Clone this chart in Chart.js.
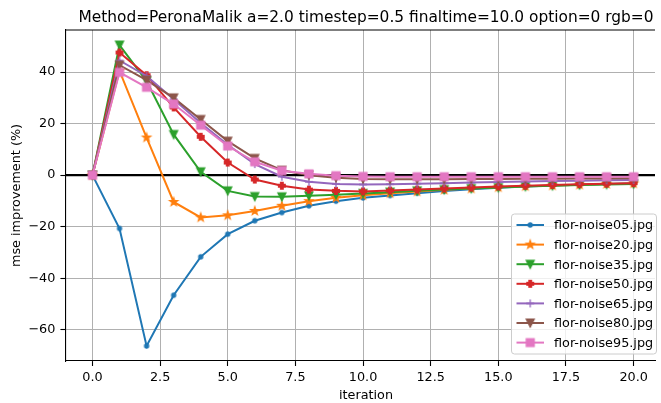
<!DOCTYPE html>
<html>
<head>
<meta charset="utf-8">
<script src="https://cdn.jsdelivr.net/npm/chart.js@4.4.0/dist/chart.umd.min.js"></script>
<style>
  html, body { margin: 0; padding: 0; background: #fff; }
  #wrap { width: 661px; height: 403px; position: relative; }
</style>
</head>
<body>
<div id="wrap"><canvas id="chart" width="661" height="403"></canvas></div>
<script>
(function () {
  'use strict';

  /* global Chart */

  // --- data ---
  var ITERATIONS = [0, 1, 2, 3, 4, 5, 6, 7, 8, 9, 10, 11, 12, 13, 14, 15, 16, 17, 18, 19, 20];
  var X_TICKS = [0, 2.5, 5, 7.5, 10, 12.5, 15, 17.5, 20];
  var Y_TICKS = [-60, -40, -20, 0, 20, 40];

  var NOISE05 = [0, -20.7, -66.3, -46.6, -31.7, -22.9, -17.7, -14.5, -11.9, -10.1, -8.8, -7.9, -7.0, -6.2, -5.5, -4.9, -4.4, -4.0, -3.7, -3.4, -3.1];
  var NOISE20 = [0, 40.5, 14.6, -10.4, -16.4, -15.6, -13.9, -11.9, -10.1, -8.8, -7.8, -7.0, -6.3, -5.7, -5.2, -4.7, -4.3, -4.0, -3.7, -3.4, -3.2];
  var NOISE35 = [0, 50.5, 36.5, 15.8, 1.3, -6.1, -8.3, -8.4, -8.0, -7.6, -7.1, -6.6, -6.1, -5.6, -5.2, -4.8, -4.4, -4.1, -3.8, -3.6, -3.4];
  var NOISE50 = [0, 47.6, 38.8, 26.3, 14.9, 4.9, -1.7, -4.1, -5.6, -6.1, -6.3, -6.0, -5.6, -5.2, -4.8, -4.4, -4.1, -3.8, -3.5, -3.3, -3.1];
  var NOISE65 = [0, 44.5, 38.5, 29.5, 20.2, 11.8, 4.3, -0.6, -2.6, -3.4, -3.6, -3.5, -3.3, -3.1, -2.9, -2.7, -2.5, -2.3, -2.2, -2.0, -1.9];
  var NOISE80 = [0, 42.7, 36.9, 30.0, 21.6, 13.2, 6.5, 1.9, 0.0, -1.0, -1.5, -1.6, -1.6, -1.6, -1.5, -1.5, -1.4, -1.4, -1.3, -1.3, -1.2];
  var NOISE95 = [0, 39.9, 34.1, 27.6, 19.4, 11.3, 5.2, 1.7, 0.5, -0.2, -0.5, -0.6, -0.6, -0.6, -0.6, -0.6, -0.6, -0.6, -0.6, -0.6, -0.6];

  var SERIES = [NOISE05, NOISE20, NOISE35, NOISE50, NOISE65, NOISE80, NOISE95];
  var NAMES = ['flor-noise05.jpg', 'flor-noise20.jpg', 'flor-noise35.jpg', 'flor-noise50.jpg',
               'flor-noise65.jpg', 'flor-noise80.jpg', 'flor-noise95.jpg'];
  var COLORS = ['#1f77b4', '#ff7f0e', '#2ca02c', '#d62728', '#9467bd', '#8c564b', '#e377c2'];
  var MARKERS = ['point', 'star', 'tridown', 'plusfilled', 'plus', 'tridown', 'square'];

  var TITLE = 'Method=PeronaMalik a=2.0 timestep=0.5 finaltime=10.0 option=0 rgb=0';
  var FONT = "'DejaVu Sans', sans-serif";
  var FS = 12.8;      // ticks, labels, legend
  var FS_TITLE = 15.4;
  var LW = 2;

  // --- matplotlib-like markers drawn on small canvases ---
  function makeMarker(kind, color) {
    var c = document.createElement('canvas');
    c.width = 16; c.height = 16;
    var g = c.getContext('2d');
    var m = 8, s = 3.95;
    g.fillStyle = color;
    g.strokeStyle = color;
    g.lineWidth = 1.3;
    g.beginPath();
    if (kind === 'point') {
      g.arc(m, m, 2, 0, Math.PI * 2);
      g.fill(); g.stroke();
    } else if (kind === 'star') {
      for (var i = 0; i < 10; i++) {
        var r = i % 2 === 0 ? s * 1.05 : s * 0.42;
        var a = -Math.PI / 2 + i * Math.PI / 5;
        var px = m + r * Math.cos(a), py = m + r * Math.sin(a);
        if (i === 0) g.moveTo(px, py); else g.lineTo(px, py);
      }
      g.closePath(); g.fill(); g.stroke();
    } else if (kind === 'tridown') {
      g.moveTo(m - s, m - s);
      g.lineTo(m + s, m - s);
      g.lineTo(m, m + s);
      g.closePath(); g.fill(); g.stroke();
    } else if (kind === 'plusfilled') {
      var w = s / 3;
      g.moveTo(m - s, m); g.lineTo(m + s, m);
      g.moveTo(m, m - s); g.lineTo(m, m + s);
      g.lineWidth = 2 * w + 1.2;
      g.stroke();
    } else if (kind === 'plus') {
      g.moveTo(m - s, m); g.lineTo(m + s, m);
      g.moveTo(m, m - s); g.lineTo(m, m + s);
      g.stroke();
    } else if (kind === 'square') {
      g.rect(m - s, m - s, 2 * s, 2 * s);
      g.fill(); g.stroke();
    }
    return c;
  }

  var markerImgs = MARKERS.map(function (k, i) { return makeMarker(k, COLORS[i]); });

  function minusFmt(v) {
    return (v < 0 ? '\u2212' : '') + Math.abs(v);
  }

  var datasets = SERIES.map(function (vals, i) {
    return {
      label: NAMES[i],
      data: ITERATIONS.map(function (x, j) { return { x: x, y: vals[j] }; }),
      borderColor: COLORS[i],
      backgroundColor: COLORS[i],
      borderWidth: LW,
      pointStyle: markerImgs[i],
      pointRadius: 4,
      pointHoverRadius: 4,
      tension: 0,
      fill: false,
      order: SERIES.length - 1 - i
    };
  });

  // zero reference line, under the datasets
  var zeroLine = {
    id: 'zeroLine',
    beforeDatasetsDraw: function (chart) {
      var ctx = chart.ctx, area = chart.chartArea;
      var y = chart.scales.y.getPixelForValue(0);
      ctx.save();
      ctx.strokeStyle = '#000';
      ctx.lineWidth = 2.4;
      ctx.beginPath();
      ctx.moveTo(area.left, y);
      ctx.lineTo(area.right, y);
      ctx.stroke();
      ctx.restore();
    }
  };

  // top spine, title, axis labels and legend box
  var decorations = {
    id: 'decorations',
    afterDraw: function (chart) {
      var ctx = chart.ctx, area = chart.chartArea;
      ctx.save();
      ctx.strokeStyle = '#000';
      ctx.lineWidth = 1.1;
      ctx.beginPath();
      ctx.moveTo(area.left, area.top);
      ctx.lineTo(area.right, area.top);
      ctx.stroke();

      ctx.fillStyle = '#000';
      ctx.font = FS_TITLE + 'px ' + FONT;
      ctx.textAlign = 'center';
      ctx.textBaseline = 'alphabetic';
      ctx.fillText(TITLE, 366, 22);

      ctx.font = FS + 'px ' + FONT;
      ctx.textBaseline = 'top';
      ctx.fillText('iteration', 366, 389);

      ctx.save();
      ctx.translate(17, (area.top + area.bottom) / 2);
      ctx.rotate(-Math.PI / 2);
      ctx.textBaseline = 'middle';
      ctx.fillText('mse improvement (%)', 0, 0);
      ctx.restore();

      // legend
      var bx = 511.5, by = 214, bw = 145, bh = 140, rr = 3;
      ctx.beginPath();
      ctx.moveTo(bx + rr, by);
      ctx.arcTo(bx + bw, by, bx + bw, by + bh, rr);
      ctx.arcTo(bx + bw, by + bh, bx, by + bh, rr);
      ctx.arcTo(bx, by + bh, bx, by, rr);
      ctx.arcTo(bx, by, bx + bw, by, rr);
      ctx.closePath();
      ctx.fillStyle = 'rgba(255,255,255,0.8)';
      ctx.fill();
      ctx.strokeStyle = '#cccccc';
      ctx.lineWidth = 1;
      ctx.stroke();

      ctx.textAlign = 'left';
      ctx.textBaseline = 'middle';
      ctx.font = FS + 'px ' + FONT;
      NAMES.forEach(function (name, i) {
        var y = 225 + i * 19.6;
        ctx.strokeStyle = COLORS[i];
        ctx.lineWidth = LW;
        ctx.beginPath();
        ctx.moveTo(516.5, y);
        ctx.lineTo(544, y);
        ctx.stroke();
        var img = markerImgs[i];
        ctx.drawImage(img, 530.25 - img.width / 2, y - img.height / 2);
        ctx.fillStyle = '#000';
        ctx.fillText(name, 554, y + 1);
      });
      ctx.restore();
    }
  };

  new Chart(document.getElementById('chart'), {
    type: 'line',
    data: { datasets: datasets },
    options: {
      responsive: false,
      animation: false,
      events: [],
      layout: { padding: { top: 30, left: 0, right: 0, bottom: 0 } },
      plugins: { legend: { display: false }, title: { display: false }, tooltip: { enabled: false } },
      scales: {
        x: {
          type: 'linear',
          min: -1,
          max: 20.79,
          afterBuildTicks: function (s) { s.ticks = X_TICKS.map(function (v) { return { value: v }; }); },
          afterFit: function (s) { s.height = 42; },
          ticks: {
            color: '#000',
            font: { family: FONT, size: FS },
            padding: 4,
            maxRotation: 0,
            autoSkip: false,
            callback: function (v) { return Number(v).toFixed(1); }
          },
          grid: { color: '#b0b0b0', lineWidth: 1, tickLength: 5, tickColor: '#000', tickWidth: 1.1 },
          border: { color: '#000', width: 1.1 }
        },
        y: {
          type: 'linear',
          min: -72.14,
          max: 56.34,
          afterBuildTicks: function (s) { s.ticks = Y_TICKS.map(function (v) { return { value: v }; }); },
          afterFit: function (s) { s.width = 65.4; },
          ticks: {
            color: '#000',
            font: { family: FONT, size: FS },
            padding: 5,
            autoSkip: false,
            callback: function (v) { return minusFmt(v); }
          },
          grid: { color: '#b0b0b0', lineWidth: 1, tickLength: 5, tickColor: '#000', tickWidth: 1.1 },
          border: { color: '#000', width: 1.1 }
        }
      }
    },
    plugins: [zeroLine, decorations]
  });
})();
</script>
</body>
</html>
